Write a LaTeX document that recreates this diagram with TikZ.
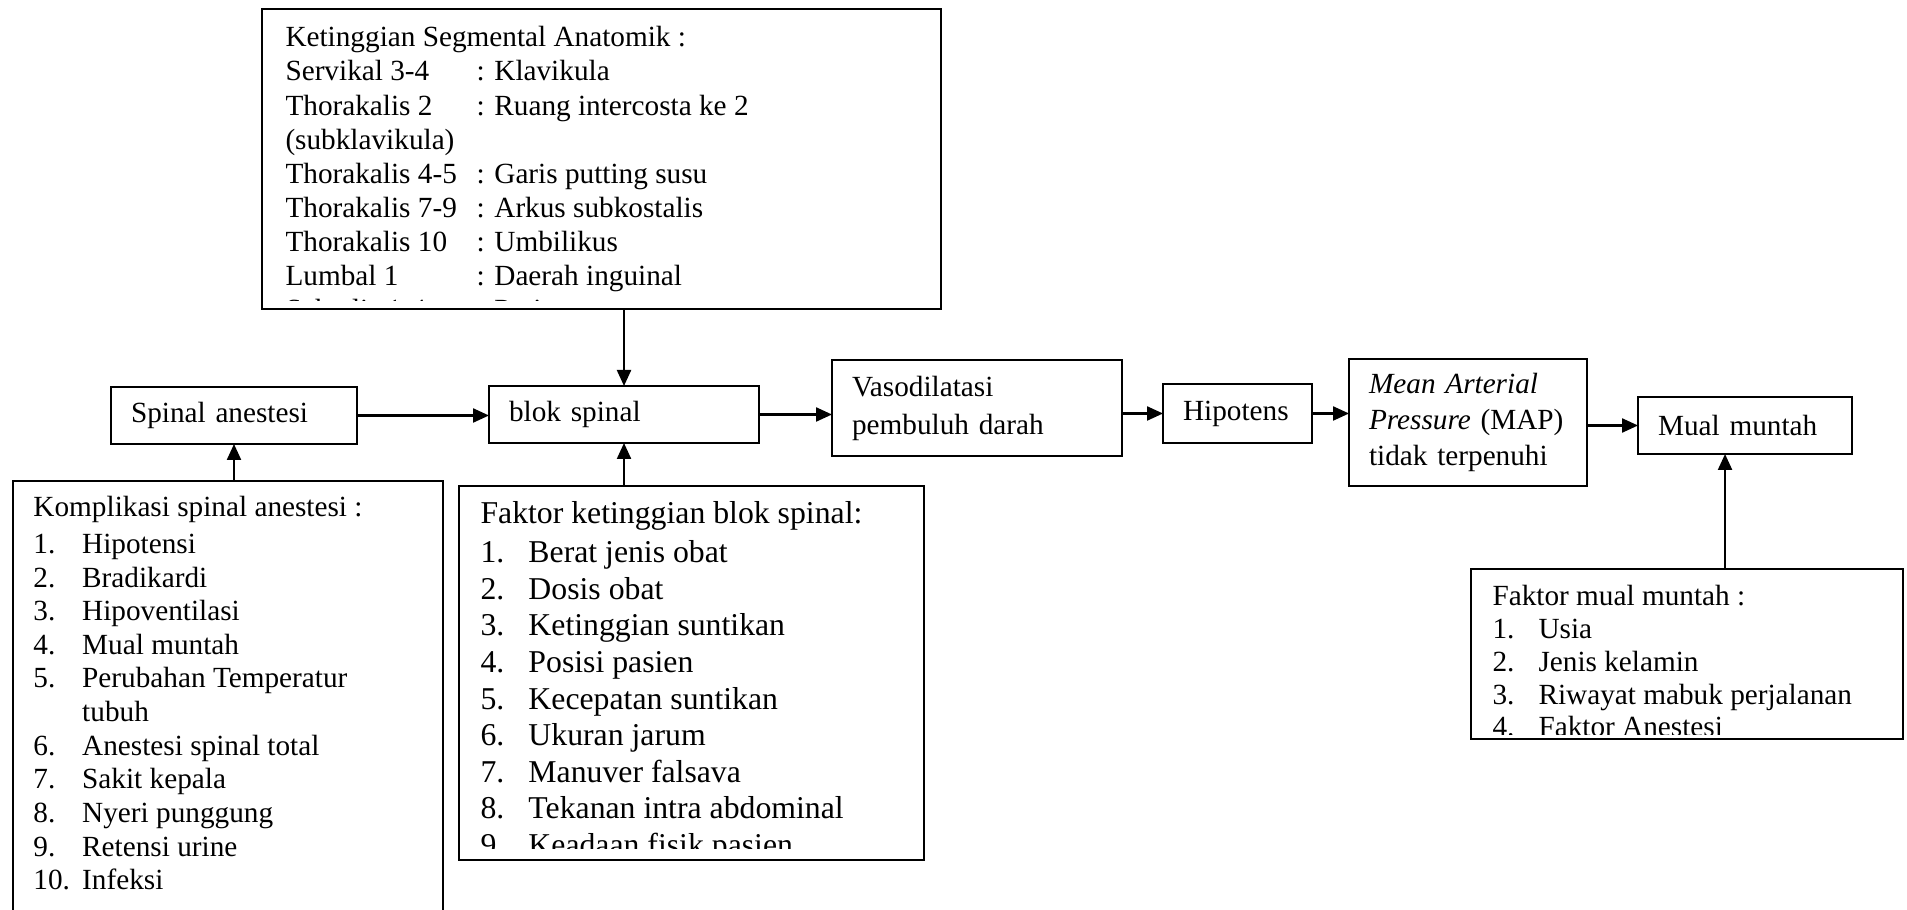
\documentclass[tikz,border=0pt]{standalone}
\usepackage{fontspec}
\setmainfont{Liberation Serif}
\usetikzlibrary{arrows.meta,positioning}
\newcommand{\segrow}[2]{\makebox[76.4pt][l]{#1}: #2}
\newcommand{\itm}[3][19.5pt]{\makebox[#1][l]{#2}#3}
\tikzset{
  flowbox/.style={draw,line width=0.75pt,inner xsep=8pt,inner ysep=0pt,outer sep=0pt,
    align=left,font=\fontsize{11.7}{14}\selectfont},
  listbox/.style={draw,line width=0.75pt,inner sep=0pt,outer sep=0pt},
  listtext/.style={anchor=north west,inner sep=0pt,align=left,
    font=\fontsize{11.7}{#1}\selectfont},
  myarrow/.style={-{Triangle[length=6.4pt,width=5.6pt]},line width=0.9pt},
}
\begin{document}
\begin{tikzpicture}[x=0.4pt,y=-0.4pt]
  \path[use as bounding box,clip] (0,0) rectangle (1907,910);
  \node[flowbox,anchor=north west,minimum width=98.4pt,minimum height=22.8pt,text width=82.4pt] (spinal) at (111,387) {Spinal anestesi};
  \node[flowbox,right=52.8pt of spinal,yshift=0.4pt,minimum width=108pt,minimum height=22.8pt,text width=92pt] (blok) {blok spinal};
  \node[flowbox,right=29.2pt of blok,yshift=2.6pt,minimum width=116pt,minimum height=38.4pt,text width=100pt,
    font=\fontsize{11.7}{15.2}\selectfont] (vaso) {Vasodilatasi\\pembuluh darah};
  \node[flowbox,right=16.4pt of vaso,yshift=-2.2pt,minimum width=59.6pt,minimum height=23.6pt,text width=43.6pt] (hipo) {Hipotens};
  \node[flowbox,right=14.8pt of hipo,yshift=-3.6pt,minimum width=95.2pt,minimum height=50.8pt,text width=79.2pt,
    font=\fontsize{11.7}{14.4}\selectfont] (map) {\textit{Mean Arterial}\\\textit{Pressure} (MAP)\\tidak terpenuhi};
  \node[flowbox,right=20.4pt of map,yshift=-1.2pt,minimum width=85.6pt,minimum height=22.8pt,text width=69.6pt] (mual) {Mual muntah};
  \node[listbox,above=30.8pt of blok,xshift=-9pt,minimum width=271.6pt,minimum height=120pt] (seg) {};
  \node[listbox,below=14.8pt of spinal,xshift=-2.4pt,minimum width=172pt,minimum height=179.6pt] (komp) {};
  \node[listbox,below=17.2pt of blok,xshift=27pt,minimum width=186pt,minimum height=149.6pt] (fblok) {};
  \node[listbox,below=46pt of mual,xshift=-23.2pt,minimum width=172.8pt,minimum height=68pt] (fmual) {};
  \begin{scope}
    \clip (seg.north west) rectangle ([yshift=3.2pt]seg.south east);
    \node[listtext=13.65pt] (segtxt) at ([xshift=9.2pt,yshift=-6.8pt]seg.north west) {
      Ketinggian Segmental Anatomik :\\
      \segrow{Servikal 3-4}{Klavikula}\\
      \segrow{Thorakalis 2}{Ruang intercosta ke 2}\\
      (subklavikula)\\
      \segrow{Thorakalis 4-5}{Garis putting susu}\\
      \segrow{Thorakalis 7-9}{Arkus subkostalis}\\
      \segrow{Thorakalis 10}{Umbilikus}\\
      \segrow{Lumbal 1}{Daerah inguinal}\\
      \segrow{Sakralis 1-4}{Perineum}};
  \end{scope}
  \node[listtext=13.45pt] (komptxt) at ([xshift=8pt,yshift=-6pt]komp.north west) {
    Komplikasi spinal anestesi :\\[1.2pt]
    \itm{1.}{Hipotensi}\\
    \itm{2.}{Bradikardi}\\
    \itm{3.}{Hipoventilasi}\\
    \itm{4.}{Mual muntah}\\
    \itm{5.}{Perubahan Temperatur}\\
    \itm{}{tubuh}\\
    \itm{6.}{Anestesi spinal total}\\
    \itm{7.}{Sakit kepala}\\
    \itm{8.}{Nyeri punggung}\\
    \itm{9.}{Retensi urine}\\
    \itm{10.}{Infeksi}};
  \begin{scope}
    \clip (fblok.north west) rectangle ([yshift=4.8pt]fblok.south east);
    \node[listtext=14.64pt,font=\fontsize{12.7}{14.64}\selectfont] (fbloktxt) at ([xshift=8.4pt,yshift=-6pt]fblok.north west) {
      Faktor ketinggian blok spinal:\\[1pt]
      \itm[19.2pt]{1.}{Berat jenis obat}\\
      \itm[19.2pt]{2.}{Dosis obat}\\
      \itm[19.2pt]{3.}{Ketinggian suntikan}\\
      \itm[19.2pt]{4.}{Posisi pasien}\\
      \itm[19.2pt]{5.}{Kecepatan suntikan}\\
      \itm[19.2pt]{6.}{Ukuran jarum}\\
      \itm[19.2pt]{7.}{Manuver falsava}\\
      \itm[19.2pt]{8.}{Tekanan intra abdominal}\\
      \itm[19.2pt]{9.}{Keadaan fisik pasien}};
  \end{scope}
  \begin{scope}
    \clip (fmual.north west) rectangle ([yshift=2pt]fmual.south east);
    \node[listtext=13.1pt] (fmualtxt) at ([xshift=8.4pt,yshift=-6.4pt]fmual.north west) {
      Faktor mual muntah :\\
      \itm[18.4pt]{1.}{Usia}\\
      \itm[18.4pt]{2.}{Jenis kelamin}\\
      \itm[18.4pt]{3.}{Riwayat mabuk perjalanan}\\
      \itm[18.4pt]{4.}{Faktor Anestesi}};
  \end{scope}
  \draw[myarrow] (blok.north |- seg.south) -- (blok.north);
  \draw[myarrow] (spinal.east) -- (spinal.east -| blok.west);
  \draw[myarrow] (blok.east) -- (blok.east -| vaso.west);
  \draw[myarrow] (hipo.west -| vaso.east) -- (hipo.west);
  \draw[myarrow] (hipo.east) -- (hipo.east -| map.west);
  \draw[myarrow] (mual.west -| map.east) -- (mual.west);
  \draw[myarrow] (spinal.south |- komp.north) -- (spinal.south);
  \draw[myarrow] (blok.south |- fblok.north) -- (blok.south);
  \path ([xshift=-8pt]mual.south) coordinate (mualin);
  \draw[myarrow] (mualin |- fmual.north) -- (mualin);
\end{tikzpicture}
\end{document}
